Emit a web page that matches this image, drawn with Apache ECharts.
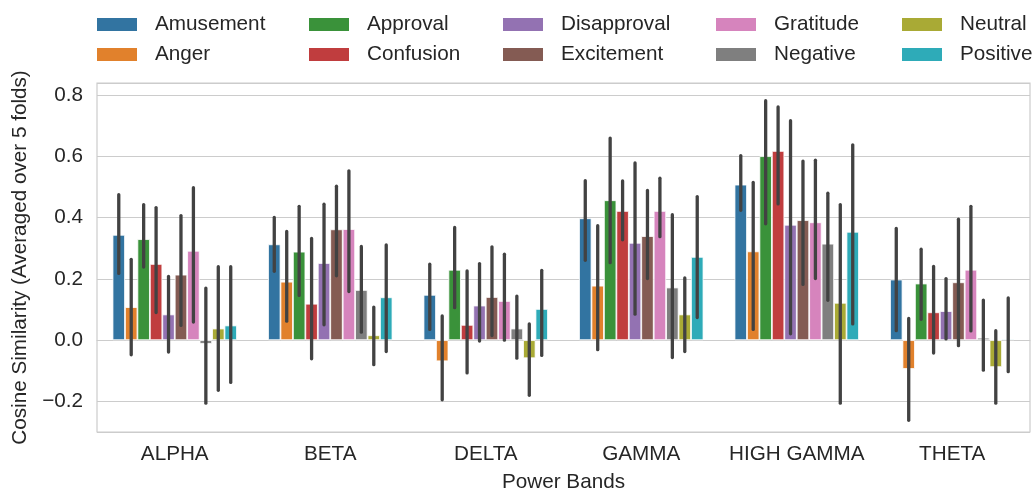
<!DOCTYPE html>
<html><head><meta charset="utf-8">
<script src="https://cdn.jsdelivr.net/npm/echarts@6/dist/echarts.min.js"></script>
<style>html,body{margin:0;padding:0;background:#fff}#c{width:1034px;height:491px}</style>
</head><body><div id="c"></div>
<script>
// Categories (power bands)
const categories = ['ALPHA', 'BETA', 'DELTA', 'GAMMA', 'HIGH GAMMA', 'THETA'];
const seriesNames = ['Amusement','Anger','Approval','Confusion','Disapproval','Excitement','Gratitude','Negative','Neutral','Positive'];
const colors = ['#3274a1','#e1812c','#3a923a','#c03d3e','#9372b2','#845b53','#d684bd','#7f7f7f','#a9aa35','#2eabb8'];
const yTicks = [-0.2, 0.0, 0.2, 0.4, 0.6, 0.8];

// [mean, ciLow, ciHigh] per category
const amusement   = [[0.344,0.218,0.475],[0.313,0.225,0.401],[0.148,0.035,0.248],[0.398,0.261,0.521],[0.508,0.424,0.603],[0.198,0.031,0.365]];
const anger       = [[0.108,-0.048,0.264],[0.191,0.062,0.355],[-0.069,-0.195,0.079],[0.178,-0.031,0.374],[0.290,0.035,0.515],[-0.094,-0.262,0.071]];
const approval    = [[0.330,0.239,0.443],[0.289,0.146,0.437],[0.230,0.106,0.368],[0.457,0.253,0.660],[0.601,0.380,0.782],[0.185,0.068,0.297]];
const confusion   = [[0.249,0.090,0.433],[0.119,-0.061,0.332],[0.050,-0.107,0.226],[0.422,0.328,0.520],[0.618,0.445,0.762],[0.091,-0.042,0.241]];
const disapproval = [[0.084,-0.039,0.208],[0.252,0.050,0.444],[0.113,-0.003,0.250],[0.318,0.085,0.579],[0.377,0.021,0.717],[0.095,0.004,0.201]];
const excitement  = [[0.214,0.048,0.407],[0.362,0.210,0.503],[0.141,0.015,0.305],[0.340,0.201,0.489],[0.392,0.182,0.585],[0.189,-0.018,0.395]];
const gratitude   = [[0.292,0.059,0.498],[0.363,0.159,0.553],[0.128,0.000,0.281],[0.422,0.338,0.529],[0.385,0.201,0.588],[0.230,0.030,0.437]];
const negative    = [[-0.012,-0.206,0.170],[0.164,0.026,0.306],[0.038,-0.059,0.144],[0.172,-0.057,0.410],[0.315,0.130,0.480],[0.008,-0.098,0.131]];
const neutral     = [[0.038,-0.164,0.240],[0.016,-0.080,0.108],[-0.059,-0.180,0.053],[0.084,-0.037,0.203],[0.122,-0.206,0.443],[-0.088,-0.206,0.031]];
const positive    = [[0.048,-0.138,0.240],[0.140,-0.037,0.311],[0.102,-0.050,0.228],[0.272,0.074,0.469],[0.354,0.053,0.638],[0.004,-0.103,0.138]];

const allData = [amusement, anger, approval, confusion, disapproval, excitement, gratitude, negative, neutral, positive];
const FONT = 'Liberation Sans, Arial, sans-serif';
const FS = 20.7;
const TXT = '#262626';
const nS = seriesNames.length;

const barSeries = seriesNames.map((name, i) => ({
  name, type: 'bar', barGap: '0%', barCategoryGap: '20%',
  itemStyle: { color: colors[i], borderColor: '#ffffff', borderWidth: 0.8 },
  data: allData[i].map(d => d[0]), z: 2
}));

const ciData = [];
allData.forEach((arr, s) => arr.forEach((d, c) => ciData.push([c, s, d[1], d[2]])));

const ciSeries = {
  name: 'ci', type: 'custom', z: 5, silent: true,
  encode: { x: 0, y: [2, 3] },
  data: ciData,
  renderItem: function (params, api) {
    const c = api.value(0), s = api.value(1);
    const bw = api.size([1, 0])[0];
    const gw = bw * 0.8, w = gw / nS;
    const p1 = api.coord([c, api.value(2)]);
    const p2 = api.coord([c, api.value(3)]);
    const x = p1[0] - gw / 2 + w * (s + 0.5);
    return { type: 'line', shape: { x1: x, y1: p1[1], x2: x, y2: p2[1] },
      style: { stroke: '#424242', lineWidth: 3.3, lineCap: 'round' } };
  }
};

const legendLefts = [97, 309, 503, 716, 902];
const legends = legendLefts.map((l, k) => ({
  orient: 'vertical', left: l, top: 14, padding: 0, itemWidth: 40, itemHeight: 13, itemGap: 9,
  icon: 'rect', data: [seriesNames[2 * k], seriesNames[2 * k + 1]],
  itemStyle: { borderWidth: 0 },
  textStyle: { fontFamily: FONT, fontSize: FS, color: TXT, padding: [0, 0, 0, 13] }
}));

const fmt = v => {
  for (const t of yTicks) if (Math.abs(v - t) < 1e-6) return (t < 0 ? '\u2212' : '') + Math.abs(t).toFixed(1);
  return '';
};

const option = {
  backgroundColor: '#ffffff',
  animation: false,
  color: colors,
  legend: legends,
  grid: { left: 97, right: 4, top: 83, bottom: 59, show: true, borderColor: '#cccccc', borderWidth: 1.2,
          containLabel: false, outerBoundsMode: 'none' },
  xAxis: {
    type: 'category', data: categories,
    name: 'Power Bands', nameLocation: 'middle', nameGap: 40,
    nameTextStyle: { fontFamily: FONT, fontSize: FS, color: TXT },
    axisLine: { show: true, lineStyle: { color: '#cccccc', width: 1.2 } },
    axisTick: { show: false },
    axisLabel: { fontFamily: FONT, fontSize: FS, color: TXT, margin: 12, interval: 0 },
    splitLine: { show: false }
  },
  yAxis: {
    type: 'value', min: -0.30, max: 0.84, splitNumber: 5,
    name: 'Cosine Similarity (Averaged over 5 folds)', nameLocation: 'middle', nameGap: 61,
    nameTextStyle: { fontFamily: FONT, fontSize: FS, color: TXT },
    axisLine: { show: false }, axisTick: { show: false },
    axisLabel: { fontFamily: FONT, fontSize: FS, color: TXT, margin: 14, formatter: fmt, showMinLabel: false, showMaxLabel: false },
    splitLine: { show: true, lineStyle: { color: '#cccccc', width: 1.2 } }
  },
  series: barSeries.concat([ciSeries])
};

echarts.init(document.getElementById('c'), null, { renderer: 'canvas' }).setOption(option);
</script></body></html>
